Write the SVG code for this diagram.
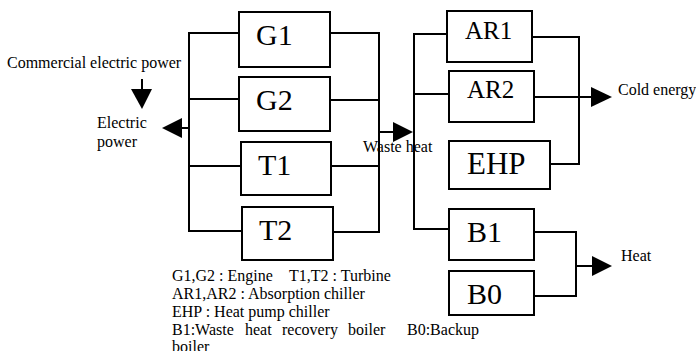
<svg xmlns="http://www.w3.org/2000/svg" width="696" height="351" viewBox="0 0 696 351">
<style>
.box{fill:#fff;stroke:#000;stroke-width:2}
.ln{fill:none;stroke:#000;stroke-width:2}
.ah{fill:#000;stroke:none}
</style>
<rect width="696" height="351" fill="#fff"/>
<g id="connectors">
<path class="ln" d="M239,33 H189 V231 H242 M189,99 H239 M189,166 H241 M189,128 H182"/>
<polygon class="ah" points="182,118 182,138 162,128"/>
<path class="ln" d="M330,33 H379 V232 H333 M330,100 H379 M332,166 H379 M379,132 H393"/>
<polygon class="ah" points="393,122 393,142 413,132"/>
<path class="ln" d="M142,79 V89"/>
<polygon class="ah" points="131,89 152,89 142,109"/>
<path class="ln" d="M447,34 H414 V229 H449 M414,94 H449"/>
<path class="ln" d="M532,37 H579 V164 H551 M534,97 H591"/>
<polygon class="ah" points="591,87 591,107 612,97"/>
<path class="ln" d="M534,232 H576 V296 H534 M576,266 H592"/>
<polygon class="ah" points="592,256 592,276 612,266"/>
</g>
<g font-family="Liberation Serif, serif" fill="#000">
<g id="G1"><rect class="box" x="239" y="12" width="91" height="55"/><text font-family="Liberation Serif" font-size="30" x="256" y="45">G1</text></g>
<g id="G2"><rect class="box" x="239" y="77" width="91" height="54"/><text font-family="Liberation Serif" font-size="30" x="256" y="110">G2</text></g>
<g id="T1"><rect class="box" x="241" y="142" width="90" height="53"/><text font-family="Liberation Serif" font-size="30" x="258" y="175">T1</text></g>
<g id="T2"><rect class="box" x="242" y="207" width="91" height="53"/><text font-family="Liberation Serif" font-size="30" x="259" y="240">T2</text></g>
<g id="AR1"><rect class="box" x="447" y="11" width="85" height="51"/><text font-family="Liberation Serif" font-size="25" x="465" y="39">AR1</text></g>
<g id="AR2"><rect class="box" x="449" y="71" width="85" height="51"/><text font-family="Liberation Serif" font-size="25" x="467" y="98">AR2</text></g>
<g id="EHP"><rect class="box" x="449" y="141" width="101" height="48"/><text font-family="Liberation Serif" font-size="31" x="467" y="174">EHP</text></g>
<g id="B1"><rect class="box" x="449" y="209" width="85" height="51"/><text font-family="Liberation Serif" font-size="30" x="467" y="242">B1</text></g>
<g id="B0"><rect class="box" x="449" y="271" width="85" height="44"/><text font-family="Liberation Serif" font-size="30" x="467" y="304">B0</text></g>
<g id="labels" font-size="16">
<text font-family="Liberation Serif" x="7" y="68">Commercial electric power</text>
<text font-family="Liberation Serif" x="97" y="128">Electric</text>
<text font-family="Liberation Serif" x="97" y="147">power</text>
<text font-family="Liberation Serif" x="363" y="152">Waste heat</text>
<text font-family="Liberation Serif" x="618" y="95">Cold energy</text>
<text font-family="Liberation Serif" x="621" y="261">Heat</text>
<text font-family="Liberation Serif" x="172" y="281">G1,G2 : Engine</text>
<text font-family="Liberation Serif" x="289" y="281">T1,T2 : Turbine</text>
<text font-family="Liberation Serif" x="172" y="299">AR1,AR2 : Absorption chiller</text>
<text font-family="Liberation Serif" x="172" y="317">EHP : Heat pump chiller</text>
<text font-family="Liberation Serif" x="172" y="335">B1:Waste</text>
<text font-family="Liberation Serif" x="245" y="335">heat</text>
<text font-family="Liberation Serif" x="282" y="335">recovery</text>
<text font-family="Liberation Serif" x="348" y="335">boiler</text>
<text font-family="Liberation Serif" x="407" y="335">B0:Backup</text>
<text font-family="Liberation Serif" x="172" y="352">boiler</text>
</g>
</g>
</svg>
